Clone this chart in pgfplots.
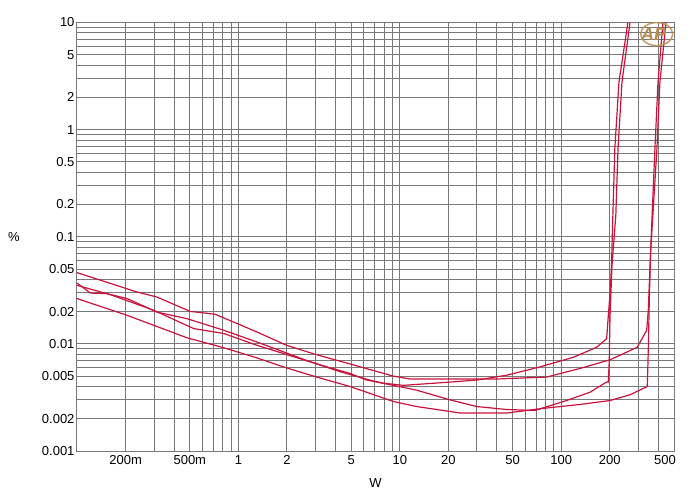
\documentclass[border=0pt]{standalone}
\usepackage{fontspec}
\setmainfont{Liberation Sans}
\usepackage{pgfplots}
\pgfplotsset{compat=1.18}
\definecolor{gridgray}{RGB}{120,120,120}
\definecolor{trace}{RGB}{200,20,60}
\definecolor{apgold}{RGB}{185,140,80}
\begin{document}
\begin{tikzpicture}
\path[use as bounding box] (-77bp,-49bp) rectangle (613bp,451bp);
\begin{axis}[
  at={(0,0)}, anchor=south west,
  scale only axis, width=597bp, height=428.5bp,
  xmode=log, ymode=log,
  xmin=0.1, xmax=500, ymin=0.001, ymax=10,
  xtick={0.2,0.5,1,2,5,10,20,50,100,200},
  xticklabels={200m,500m,1,2,5,10,20,50,100,200},
  extra x ticks={500}, extra x tick labels={500},
  extra x tick style={xticklabel style={xshift=-9bp}},
  ytick={0.001,0.002,0.005,0.01,0.02,0.05,0.1,0.2,0.5,1,2,5,10},
  yticklabels={0.001,0.002,0.005,0.01,0.02,0.05,0.1,0.2,0.5,1,2,5,10},
  minor xtick={0.3,0.4,0.6,0.7,0.8,0.9,3,4,6,7,8,9,30,40,60,70,80,90,300,400},
  minor ytick={0.003,0.004,0.006,0.007,0.008,0.009,0.03,0.04,0.06,0.07,0.08,0.09,0.3,0.4,0.6,0.7,0.8,0.9,3,4,6,7,8,9},
  grid=both,
  major grid style={gridgray, line width=1bp},
  minor grid style={gridgray, line width=1bp},
  axis line style={gridgray, line width=1bp},
  major tick length=0pt, minor tick length=0pt,
  tick style={draw=none},
  /pgf/number format/assume math mode=true,
  ticklabel style={font=\fontsize{13bp}{15bp}\selectfont},
  xticklabel style={yshift=-1bp},
  yticklabel style={xshift=1bp},
  xlabel={W}, ylabel={\%},
  every axis x label/.style={at={(axis description cs:0.5,0)}, anchor=center, yshift=-32bp, font=\fontsize{13bp}{15bp}\selectfont},
  every axis y label/.style={at={(axis description cs:0,0.5)}, anchor=center, xshift=-63bp, font=\fontsize{13bp}{15bp}\selectfont},
]
% Curve A (upper, clips near 400 W)
\addplot[trace, line width=1.2bp, no markers] coordinates {(0.1,0.0463) (0.235,0.0305) (0.312,0.0274) (0.503,0.0201) (0.719,0.0189) (1.304,0.0129) (1.99,0.0097) (2.98,0.0080) (4.91,0.0065) (9.12,0.0050) (11.6,0.0047) (20.5,0.0047) (39.9,0.0047) (81.3,0.0049) (130.8,0.0059) (200.6,0.0071) (296,0.0093) (338.6,0.0134) (346.5,0.0206) (355,0.052) (366,0.16) (381,0.67) (398,2.78) (427,10)};
% Curve B (upper, clips near 200 W)
\addplot[trace, line width=1.2bp, no markers] coordinates {(0.1,0.0370) (0.121,0.0298) (0.153,0.0295) (0.204,0.0265) (0.313,0.0198) (0.480,0.0172) (0.811,0.0134) (1.304,0.0104) (2.65,0.0070) (4.26,0.0055) (6.85,0.0045) (7.9,0.0043) (10.5,0.0041) (20.5,0.0044) (30,0.0046) (46,0.0051) (73.9,0.0061) (119,0.0075) (166,0.0093) (191.4,0.0112) (193,0.0134) (197,0.0206) (201,0.03) (205,0.054) (209,0.159) (215,0.67) (228,2.78) (259,10)};
% Curve C (lower, clips near 200 W)
\addplot[trace, line width=1.2bp, no markers] coordinates {(0.1,0.0352) (0.161,0.0288) (0.299,0.0206) (0.528,0.0139) (0.811,0.0125) (1.304,0.0097) (3.06,0.0065) (4.91,0.0053) (6.23,0.0046) (9.12,0.0041) (12.7,0.0037) (20.5,0.0030) (30,0.0026) (46,0.00244) (68.8,0.00239) (108,0.00296) (151,0.00354) (191,0.0044) (195.8,0.0044) (198.6,0.0070) (200.6,0.0178) (206.4,0.054) (218,0.159) (225,0.67) (238,2.78) (267,10)};
% Curve D (lowest, clips near 400 W)
\addplot[trace, line width=1.2bp, no markers] coordinates {(0.1,0.0265) (0.204,0.0185) (0.480,0.0114) (0.811,0.0092) (1.304,0.0074) (1.898,0.0061) (3.056,0.0049) (4.914,0.0040) (9.116,0.0029) (12.73,0.0026) (20.47,0.00234) (23.6,0.00226) (46,0.00226) (73.9,0.00248) (130.8,0.00272) (200.6,0.00296) (266.9,0.00335) (341.5,0.0040) (346.5,0.0087) (351.4,0.0255) (358.4,0.0737) (370,0.16) (392,0.67) (409,2.78) (446,10)};
% AP logo
\draw[apgold, line width=1.5bp, opacity=0.85] (axis description cs:0.971,0.973) ellipse [x radius=16bp, y radius=11.5bp];
\node[text=apgold, font=\fontsize{18bp}{18bp}\selectfont\bfseries\itshape, inner sep=0pt] at (axis description cs:0.966,0.972) {AP};
\end{axis}
\end{tikzpicture}
\end{document}
